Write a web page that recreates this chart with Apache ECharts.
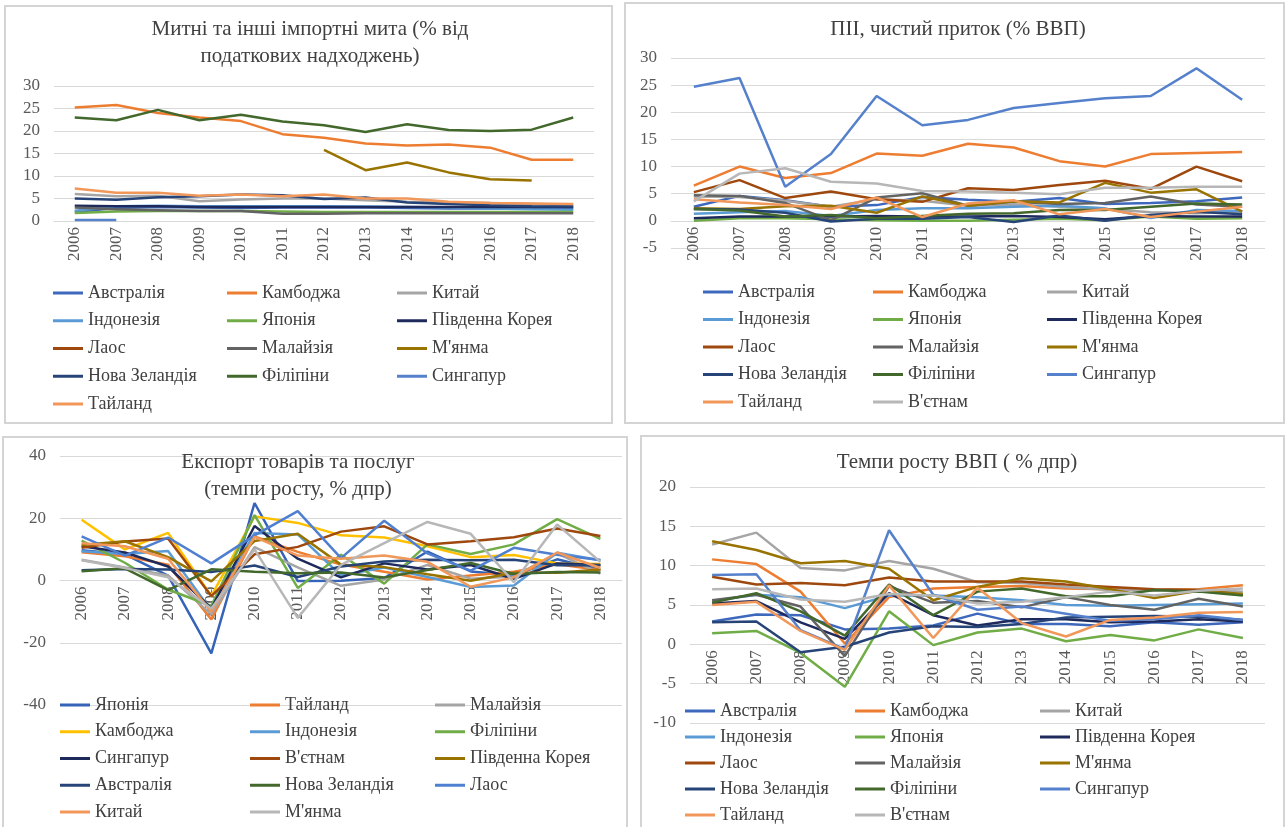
<!DOCTYPE html>
<html>
<head>
<meta charset="utf-8">
<script src="https://cdn.jsdelivr.net/npm/echarts@6/dist/echarts.min.js"></script>
<style>
  html, body { margin: 0; padding: 0; background: #fff; }
  #chart { width: 1285px; height: 827px; }
</style>
</head>
<body>
<div id="chart"></div>
<script>
const years = ['2006', '2007', '2008', '2009', '2010', '2011', '2012', '2013', '2014', '2015', '2016', '2017', '2018'];

// chart 1: customs duties, % of tax revenue
const tariffCountries = ['Австралія', 'Камбоджа', 'Китай', 'Індонезія', 'Японія', 'Південна Корея', 'Лаос', 'Малайзія', "М'янма", 'Нова Зеландія', 'Філіпіни', 'Сингапур', 'Тайланд'];
const tariffValues = [
  [2.0, 2.9, 3.1, 3.0, 2.9, 3.0, 3.0, 3.0, 2.9, 2.8, 2.8, 2.7, 2.7],
  [25.2, 25.8, 24.0, 23.0, 22.2, 19.3, 18.5, 17.2, 16.8, 17.0, 16.3, 13.6, 13.6],
  [6.0, 5.5, 5.6, 4.4, 4.8, 5.0, 5.0, 4.6, 4.3, 4.1, 4.0, 3.8, 3.6],
  [2.3, 3.3, 3.4, 3.3, 3.3, 3.3, 3.3, 3.2, 3.1, 3.0, 2.8, 2.6, 2.5],
  [1.8, 2.1, 2.2, 2.2, 2.2, 2.1, 2.0, 2.0, 2.0, 2.0, 2.0, 2.0, 2.0],
  [3.4, 3.3, 3.3, 3.1, 3.1, 3.1, 3.1, 3.1, 3.1, 3.1, 3.1, 3.1, 3.1],
  [null, null, null, null, null, null, null, null, null, null, null, null, null],
  [3.0, 2.6, 2.4, 2.2, 2.2, 1.6, 1.6, 1.7, 1.7, 1.7, 1.7, 1.7, 1.7],
  [null, null, null, null, null, null, 15.8, 11.3, 13.0, 10.8, 9.3, 9.0, null],
  [5.0, 4.7, 5.3, 5.5, 5.9, 5.7, 4.9, 5.2, 4.1, 3.8, 3.5, 3.3, 3.2],
  [23.0, 22.4, 24.7, 22.4, 23.6, 22.1, 21.3, 19.8, 21.5, 20.2, 20.0, 20.3, 23.0],
  [0.2, 0.2, null, null, null, null, null, null, null, null, null, null, null],
  [7.2, 6.3, 6.3, 5.6, 5.9, 5.5, 5.9, 5.0, 5.0, 4.3, 4.0, 3.9, 3.8]
];

// chart 2: FDI net inflow, % of GDP
const fdiCountries = ['Австралія', 'Камбоджа', 'Китай', 'Індонезія', 'Японія', 'Південна Корея', 'Лаос', 'Малайзія', "М'янма", 'Нова Зеландія', 'Філіпіни', 'Сингапур', 'Тайланд', "В'єтнам"];
const fdiValues = [
  [2.6, 4.6, 3.8, 2.6, 2.9, 4.4, 3.9, 3.5, 4.2, 3.1, 3.3, 3.6, 4.3],
  [6.5, 10.0, 7.9, 8.8, 12.4, 12.0, 14.2, 13.5, 11.0, 10.0, 12.3, 12.5, 12.7],
  [4.5, 4.4, 3.7, 2.6, 4.0, 3.7, 2.8, 3.0, 2.6, 2.2, 1.6, 1.4, 1.7],
  [1.3, 1.6, 1.8, 0.9, 2.0, 2.3, 2.3, 2.6, 2.8, 2.3, 0.5, 2.0, 1.8],
  [0.0, 0.5, 0.5, 0.3, 0.1, 0.0, 0.0, 0.2, 0.4, 0.1, 0.8, 0.4, 0.5],
  [0.5, 0.8, 0.8, 0.8, 0.9, 0.8, 0.8, 0.9, 0.7, 0.3, 0.9, 0.8, 0.8],
  [5.3, 7.5, 4.2, 5.4, 4.0, 3.5, 6.0, 5.7, 6.6, 7.4, 5.9, 10.0, 7.3],
  [4.7, 4.6, 3.3, 0.1, 4.3, 5.1, 2.8, 3.5, 3.1, 3.3, 4.5, 3.0, 2.6],
  [2.3, 2.2, 2.7, 2.8, 1.5, 4.5, 2.8, 3.6, 3.4, 7.0, 5.2, 5.8, 1.7],
  [2.2, 2.1, 1.5, -0.1, 0.4, 0.4, 0.7, -0.2, 1.0, 0.0, 1.1, 1.7, 1.2],
  [2.2, 1.9, 0.8, 1.1, 0.5, 0.9, 1.3, 1.4, 2.0, 2.0, 2.6, 3.2, 3.0],
  [24.7, 26.3, 6.3, 12.3, 23.0, 17.6, 18.6, 20.8, 21.7, 22.6, 23.0, 28.1, 22.3],
  [4.0, 3.4, 2.9, 2.2, 4.3, 0.7, 3.2, 3.8, 1.2, 2.2, 0.7, 1.7, 2.6],
  [3.6, 8.7, 9.7, 7.2, 6.9, 5.5, 5.4, 5.2, 4.9, 6.1, 6.1, 6.3, 6.3]
];

// chart 3: exports of goods and services, annual growth %
const exportCountries = ['Японія', 'Тайланд', 'Малайзія', 'Камбоджа', 'Індонезія', 'Філіпіни', 'Сингапур', "В'єтнам", 'Південна Корея', 'Австралія', 'Нова Зеландія', 'Лаос', 'Китай', "М'янма"];
const exportValues = [
  [9.7, 8.4, 1.6, -23.4, 24.9, -0.2, -0.1, 0.8, 9.3, 2.9, 1.7, 6.8, 3.4],
  [9.1, 7.8, 5.1, -12.5, 14.2, 9.2, 5.1, 2.8, 0.3, 1.6, 2.8, 5.2, 3.4],
  [6.7, 4.2, 1.6, -10.9, 10.7, 4.2, -1.7, 0.3, 5.0, 0.6, 1.3, 8.7, 2.2],
  [19.5, 10.0, 15.3, -5.0, 20.6, 18.5, 14.5, 13.8, 11.0, 7.5, 8.2, 5.5, 5.3],
  [9.4, 8.5, 9.5, -9.7, 15.3, 14.8, 1.6, 4.2, 1.1, -2.1, -1.6, 8.9, 6.5],
  [12.8, 5.7, -2.9, -8.2, 21.0, -2.4, 8.3, -1.0, 11.6, 8.5, 11.6, 19.7, 13.4],
  [11.0, 9.0, 4.5, -9.0, 17.5, 7.0, 1.0, 5.5, 3.5, 5.0, 0.5, 5.5, 5.0],
  [10.5, 12.5, 13.5, -5.0, 8.4, 10.8, 15.7, 17.4, 11.6, 12.6, 13.9, 16.7, 14.3],
  [11.4, 12.6, 7.5, -0.3, 12.7, 15.0, 5.1, 4.3, 2.0, -0.1, 2.5, 2.5, 3.5],
  [3.3, 3.7, 3.5, 2.7, 4.8, 1.1, 4.5, 6.1, 6.7, 6.5, 6.7, 4.9, 4.9],
  [3.0, 3.9, -3.1, 3.6, 2.8, 2.3, 2.6, 1.0, 3.4, 5.6, 2.1, 2.7, 2.6],
  [14.2, 8.0, 13.8, 5.5, 14.5, 22.3, 7.2, 19.2, 8.7, 3.2, 10.5, 8.3, 6.6],
  [12.0, 11.0, 7.0, -10.0, 14.0, 8.0, 7.0, 8.0, 6.0, -2.0, 1.0, 9.0, 4.0],
  [6.5, 4.0, 1.0, -9.0, 10.0, -12.0, 5.0, 12.0, 18.8, 15.0, -0.5, 18.0, 6.0]
];

// chart 4: GDP growth, annual %
const gdpCountries = ['Австралія', 'Камбоджа', 'Китай', 'Індонезія', 'Японія', 'Південна Корея', 'Лаос', 'Малайзія', "М'янма", 'Нова Зеландія', 'Філіпіни', 'Сингапур', 'Тайланд', "В'єтнам"];
const gdpValues = [
  [2.9, 3.8, 3.7, 1.9, 2.0, 2.4, 3.9, 2.6, 2.6, 2.3, 2.8, 2.5, 2.8],
  [10.8, 10.2, 6.7, 0.1, 6.0, 7.1, 7.3, 7.4, 7.1, 7.0, 6.9, 7.0, 7.5],
  [12.7, 14.2, 9.7, 9.4, 10.6, 9.6, 7.9, 7.8, 7.3, 6.9, 6.8, 6.9, 6.7],
  [5.5, 6.3, 6.0, 4.6, 6.2, 6.2, 6.0, 5.6, 5.0, 4.9, 5.0, 5.1, 5.2],
  [1.4, 1.7, -1.1, -5.4, 4.2, -0.1, 1.5, 2.0, 0.4, 1.2, 0.5, 1.9, 0.8],
  [5.2, 5.5, 2.8, 0.7, 6.5, 3.7, 2.4, 3.2, 3.2, 2.8, 2.9, 3.2, 2.9],
  [8.6, 7.6, 7.8, 7.5, 8.5, 8.0, 8.0, 8.0, 7.6, 7.3, 7.0, 6.9, 6.3],
  [5.6, 6.3, 4.8, -1.5, 7.4, 5.3, 5.5, 4.7, 6.0, 5.0, 4.4, 5.8, 4.8],
  [13.1, 12.0, 10.3, 10.6, 9.6, 5.6, 7.3, 8.4, 8.0, 7.0, 5.9, 6.8, 6.4],
  [2.8, 2.9, -1.0, -0.3, 1.5, 2.3, 2.2, 2.6, 3.4, 3.5, 3.6, 3.5, 3.1],
  [5.3, 6.5, 4.2, 1.1, 7.6, 3.7, 6.7, 7.1, 6.1, 6.1, 6.9, 6.7, 6.2],
  [8.8, 8.9, 1.8, -0.6, 14.5, 6.3, 4.4, 4.8, 3.9, 3.0, 3.2, 3.7, 3.1],
  [5.0, 5.4, 1.7, -0.7, 7.5, 0.8, 7.2, 2.7, 1.0, 3.1, 3.4, 4.0, 4.1],
  [7.0, 7.1, 5.7, 5.4, 6.4, 6.2, 5.2, 5.4, 6.0, 6.7, 6.2, 6.8, 7.1]
];

// colours
const basePalette = ['#3D68BC', '#ED7D31', '#A5A5A5', '#5B9BD5', '#70AD47', '#1F2A5C', '#9E480E', '#636363', '#997300', '#264478', '#43682B', '#5580CC', '#F1975A', '#B7B7B7'];
const exportPalette = ['#3563B8', '#ED7D31', '#A5A5A5', '#FFC000', '#5B9BD5', '#70AD47', '#1F2A5C', '#9E480E', '#997300', '#264478', '#43682B', '#4F7FD0', '#F1975A', '#B7B7B7'];

const FONT = '"Liberation Serif", "DejaVu Serif", serif';
const TXT = '#404040';

const panels = [
  { names: tariffCountries, values: tariffValues, colors: basePalette,
    title: 'Митні та інші імпортні мита (% від\nподаткових надходжень)', titleX: 310, titleY: 16,
    grid: { left: 54, top: 86, width: 540, height: 135 }, min: 0, max: 30, interval: 5,
    legendTop: 283, legendGap: 7.75, legendX: [53, 227, 397] },
  { names: fdiCountries, values: fdiValues, colors: basePalette,
    title: 'ПІІ, чистий приток (% ВВП)', titleX: 958, titleY: 16,
    grid: { left: 671, top: 58, width: 594, height: 190 }, min: -5, max: 30, interval: 5,
    legendTop: 282, legendGap: 7.5, legendX: [703, 873, 1047] },
  { names: exportCountries, values: exportValues, colors: exportPalette,
    title: 'Експорт товарів та послуг\n(темпи росту, % дпр)', titleX: 298, titleY: 449,
    grid: { left: 60, top: 456, width: 562, height: 249 }, min: -40, max: 40, interval: 20,
    legendTop: 695, legendGap: 6.75, legendX: [60, 250, 435] },
  { names: gdpCountries, values: gdpValues, colors: basePalette,
    title: 'Темпи росту ВВП ( % дпр)', titleX: 957, titleY: 449,
    grid: { left: 690, top: 487, width: 575, height: 236 }, min: -10, max: 20, interval: 5,
    legendTop: 701, legendGap: 6, legendX: [685, 855, 1040] }
];

const option = {
  animation: false,
  backgroundColor: '#fff',
  title: [], grid: [], xAxis: [], yAxis: [], legend: [], series: [],
  graphic: [
    { type: 'rect', shape: { x: 5, y: 6, width: 607, height: 417 }, style: { fill: 'none', stroke: '#D4D4D4', lineWidth: 2 } },
    { type: 'rect', shape: { x: 625, y: 3, width: 659, height: 420 }, style: { fill: 'none', stroke: '#D4D4D4', lineWidth: 2 } },
    { type: 'rect', shape: { x: 3, y: 437, width: 624, height: 400 }, style: { fill: 'none', stroke: '#D4D4D4', lineWidth: 2 } },
    { type: 'rect', shape: { x: 641, y: 436, width: 643, height: 400 }, style: { fill: 'none', stroke: '#D4D4D4', lineWidth: 2 } }
  ]
};

panels.forEach((p, k) => {
  option.title.push({
    text: p.title, left: p.titleX, top: p.titleY, textAlign: 'center', padding: 0,
    textStyle: { fontFamily: FONT, fontSize: 21, fontWeight: 'normal', color: TXT, lineHeight: 27 }
  });
  option.grid.push(Object.assign({ containLabel: false }, p.grid));
  // put the category labels at the zero line, as the original does
  const zeroShift = p.min < 0 ? -p.grid.height * (0 - p.min) / (p.max - p.min) : 0;
  option.xAxis.push({
    type: 'category', gridIndex: k, data: years, boundaryGap: true, offset: zeroShift,
    axisLine: { onZero: false, lineStyle: { color: '#D9D9D9', width: 1 } },
    axisTick: { show: false },
    axisLabel: { rotate: 90, fontFamily: FONT, fontSize: 17, color: '#595959', margin: 6, interval: 0 }
  });
  option.yAxis.push({
    type: 'value', gridIndex: k, min: p.min, max: p.max, interval: p.interval,
    axisLine: { show: false }, axisTick: { show: false },
    splitLine: { lineStyle: { color: '#D9D9D9', width: 1 } },
    axisLabel: { fontFamily: FONT, fontSize: 17, color: '#595959', margin: 14 }
  });
  const ids = p.names.map(n => n + '|' + k);
  p.names.forEach((n, i) => {
    option.series.push({
      name: ids[i], type: 'line', xAxisIndex: k, yAxisIndex: k,
      data: p.values[i], symbol: 'none', connectNulls: false,
      lineStyle: { width: 2.5, color: p.colors[i] }, itemStyle: { color: p.colors[i] },
      emphasis: { disabled: true }
    });
  });
  [0, 1, 2].forEach(c => {
    option.legend.push({
      orient: 'vertical', left: p.legendX[c], top: p.legendTop, height: 240, padding: 0,
      itemGap: p.legendGap, itemWidth: 30, itemHeight: 3, icon: 'rect',
      selectedMode: false,
      data: ids.filter((_, i) => i % 3 === c),
      formatter: name => name.split('|')[0],
      textStyle: { fontFamily: FONT, fontSize: 18, color: TXT, lineHeight: 20, padding: 0 }
    });
  });
});

const chart = echarts.init(document.getElementById('chart'), null, { renderer: 'canvas' });
chart.setOption(option);
</script>
</body>
</html>
